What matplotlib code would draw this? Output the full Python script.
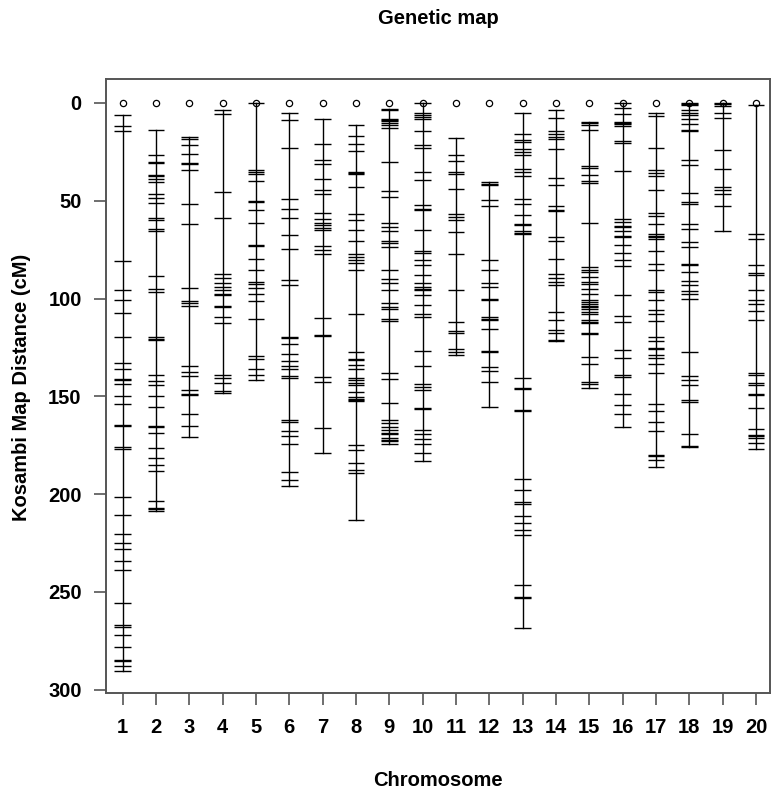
import numpy as np
import matplotlib.pyplot as plt

### marker positions (cM), one list per chromosome
chr01 = [6.4, 12, 14.4, 81, 95.8, 101, 107.4, 119.6, 133, 136, 141, 141.6, 143.5, 150, 153.7,
         164.6, 165.2, 176, 176.8, 201.4, 210.8, 220.6, 225.2, 228, 234, 239, 255.6, 266.8,
         268, 272, 278, 284.8, 285.4, 288, 290.5]
chr02 = [13.7, 26.5, 30.3, 30.9, 36.7, 37.3, 38.7, 40.4, 46.4, 48.4, 51.2, 59.1, 59.7, 64.7,
         65.3, 88.3, 95, 96.8, 119.6, 120.6, 121.2, 139, 142, 144.3, 150, 155.7, 165.3, 165.9,
         168.5, 176.4, 181.6, 184.9, 188.3, 203.5, 207.1, 207.7, 208.6]
chr03 = [17.5, 18.7, 21.6, 26.3, 30.7, 31.3, 34.5, 51.5, 62, 94.4, 101.5, 102.1, 104, 134.6,
         137.5, 139.6, 146.9, 148.6, 149.3, 159, 165, 171]
chr04 = [3.5, 5.9, 45.6, 58.7, 87.7, 89.4, 92, 94.1, 95.8, 97.6, 98.2, 103.7, 104.3, 109.4,
         112.5, 139.3, 140.5, 143.2, 147.5, 148.1]
chr05 = [0, 34.5, 35.1, 36.5, 39.9, 50, 50.6, 54.6, 61.4, 72.5, 73.1, 80, 85.6, 91.6, 92.8,
         94.5, 97.5, 101.4, 110.3, 129.4, 130.9, 135.9, 139.3, 141.8]
chr06 = [5.2, 8.6, 23.1, 49.3, 54.1, 58.7, 67.4, 74.7, 90.4, 93, 119.7, 120.3, 123.4, 128.2,
         131.9, 134.4, 135.8, 139.8, 140.4, 162.3, 162.9, 167.7, 170.2, 174.2, 188.7, 192.6, 196]
chr07 = [8.1, 20.9, 29, 31.5, 38.9, 44.4, 46.8, 56.3, 59.2, 61.4, 62.6, 63.8, 65.2, 73.3, 75.4,
         77.1, 109.8, 118.5, 119.1, 140.1, 142.6, 166, 178.9]
chr08 = [11.5, 17.1, 20.9, 24.6, 35.3, 36, 36.5, 43, 56.6, 60, 64.8, 70.6, 77.1, 78.8, 80.2,
         81.9, 85.6, 107.8, 127.3, 131, 131.6, 134.2, 135.9, 140.5, 141.8, 143.2, 144.4, 147.8,
         150.3, 151.4, 152, 152.5, 175, 177.3, 184.1, 187.8, 189.2, 213.4]
chr09 = [3.2, 3.8, 8.1, 8.8, 9.4, 10.3, 11.5, 12.7, 30.2, 45.2, 48.1, 61.4, 63.4, 65.5, 70.8,
         71.4, 73.7, 85.3, 89.9, 92.1, 95.5, 102.3, 104.4, 105.2, 110.3, 111.5, 138, 141.1,
         153.4, 162.3, 163.6, 165.7, 167.4, 168.8, 169.4, 171.1, 172.2, 172.8, 174.5]
chr10 = [0, 5.2, 6.4, 7.2, 8.1, 14.4, 21.7, 22.9, 35.5, 39.6, 52, 54, 54.6, 64.8, 75.9, 76.5,
         80.2, 83.1, 88.2, 92.1, 94.1, 95, 95.8, 98, 103.5, 108.1, 109.4, 127, 134.7, 143.9,
         145.3, 147, 156, 156.6, 167, 169.4, 171.6, 174.5, 178.9, 183]
chr11 = [17.8, 26.8, 29.7, 35.3, 36.5, 44.2, 56.6, 58.3, 60, 66, 77.1, 95.8, 112, 116.8, 117.4,
         125.6, 127.3, 129]
chr12 = [40.7, 41.3, 42.2, 49.8, 52.7, 80.5, 85.3, 92.1, 94.1, 100.1, 101, 109.7, 110.3, 111.2,
         115.4, 126.7, 127.3, 135, 137.1, 142.7, 155.6]
chr13 = [5.2, 16.1, 19.2, 19.8, 23.8, 25.1, 26.8, 34, 35.3, 37.4, 49, 51.5, 57.5, 62, 62.6,
         65.7, 66.3, 66.9, 140.5, 145.8, 146.4, 156.9, 157.5, 192.4, 198, 204.2, 204.8, 211.3,
         214.7, 218.5, 221, 246.2, 252.6, 253.2, 268.2]
chr14 = [3.8, 7.6, 14.4, 15.8, 17.5, 18.3, 23.8, 38.2, 42.2, 52.7, 54.6, 55.2, 68.6, 70.6, 80,
         87.7, 89.4, 91.6, 93, 106.9, 111.2, 115.9, 117.6, 121.1, 121.7]
chr15 = [9.8, 10.4, 11.2, 13.7, 32.5, 33.1, 37.1, 39.9, 41, 61.4, 83.9, 85.3, 86.5, 89, 91.8,
         92.4, 95, 97.5, 100.6, 101.8, 102.6, 103.7, 104.3, 105.2, 106.9, 108.1, 111.2, 111.8,
         112.5, 117.6, 118.2, 129.9, 133.3, 142.7, 143.9, 145.7]
chr16 = [0, 2.5, 5.9, 9.8, 10.4, 11, 11.6, 19.7, 20.3, 34.8, 59.2, 60.9, 62.8, 63.4, 65.5, 67.9,
         68.5, 72.8, 76.7, 80.5, 83.6, 98.4, 109.1, 112, 126.1, 130.4, 139.3, 139.9, 148.6,
         154.3, 158.9, 165.7]
chr17 = [5.2, 6.9, 23.1, 34.2, 35.9, 37.6, 44.7, 56.3, 58, 61.8, 66.9, 67.9, 68.5, 69.4, 75.7,
         82.5, 85.6, 95.5, 96.7, 101, 105.7, 107.7, 111.5, 119.7, 121.7, 125.3, 125.9, 129,
         130.2, 133.3, 138, 153.7, 157.4, 163.1, 167.7, 179.9, 180.5, 182.7, 186.1]
chr18 = [0, 0.6, 1.3, 3.8, 5.2, 6.4, 8.1, 10.6, 13.8, 14.4, 29, 31.9, 46.1, 50.9, 51.5, 61.8,
         64.3, 71.1, 73.7, 82.4, 83, 86.5, 91, 93.3, 96.3, 97.5, 100.1, 127.3, 139.8, 141.8,
         144.4, 152.1, 152.7, 169.1, 175.3, 175.9]
chr19 = [0, 0.8, 1.4, 5.2, 7.6, 23.9, 33.6, 43, 44.4, 46.8, 52.9, 65.5]
chr20 = [1.3, 67.2, 69.4, 83, 86.9, 88.2, 95.8, 101, 102.6, 106.4, 111.2, 138, 139.3, 143,
         144.4, 148.6, 149.5, 155.8, 166.5, 169.6, 170.2, 171.1, 173.9, 176.8]

chrom_names = [str(i) for i in range(1, 21)]
chrom_maps = [chr01, chr02, chr03, chr04, chr05, chr06, chr07, chr08, chr09, chr10,
              chr11, chr12, chr13, chr14, chr15, chr16, chr17, chr18, chr19, chr20]
y_ticks = [0, 50, 100, 150, 200, 250, 300]

plt.rcParams['font.family'] = ['Liberation Sans', 'DejaVu Sans']
plt.rcParams['font.weight'] = 'bold'

fig = plt.figure(figsize=(7.72, 8.01), dpi=100)
ax = fig.add_axes([106 / 772, 1 - 693.3 / 801, 664 / 772, 614.3 / 801])

### one vertical bar per chromosome, a short dash for each marker
for i, pos in enumerate(chrom_maps):
    x = i + 1
    pos = np.array(pos)
    ax.plot([x, x], [pos.min(), pos.max()], color='black', lw=1.0)
    ax.hlines(pos, x - 0.25, x + 0.25, color='black', lw=1.0)
    ax.plot(x, 0, 'o', mfc='none', mec='black', ms=4.5, mew=0.9)

ax.set_xlim(0.5, 20.42)
ax.set_ylim(301.8, -12.2)
ax.set_xticks(range(1, 21))
ax.set_xticklabels(chrom_names)
ax.set_yticks(y_ticks)
ax.tick_params(axis='both', labelsize=14.5, length=8.5, width=1.2, color='#555555', direction='out')
ax.tick_params(axis='x', pad=9)
ax.tick_params(axis='y', pad=9)
for s in ax.spines.values():
    s.set_color('#555555')
    s.set_linewidth(1.4)

fig.text(438 / 772, 1 - 18 / 801, 'Genetic map', ha='center', va='center', fontsize=14.5, fontweight='bold')
fig.text(438 / 772, 1 - 780 / 801, 'Chromosome', ha='center', va='center', fontsize=14.5, fontweight='bold')
fig.text(22 / 772, 1 - 387.5 / 801, 'Kosambi Map Distance (cM)', ha='center', va='center',
         rotation=90, fontsize=14.5, fontweight='bold')

plt.savefig('out.png', dpi=100)
